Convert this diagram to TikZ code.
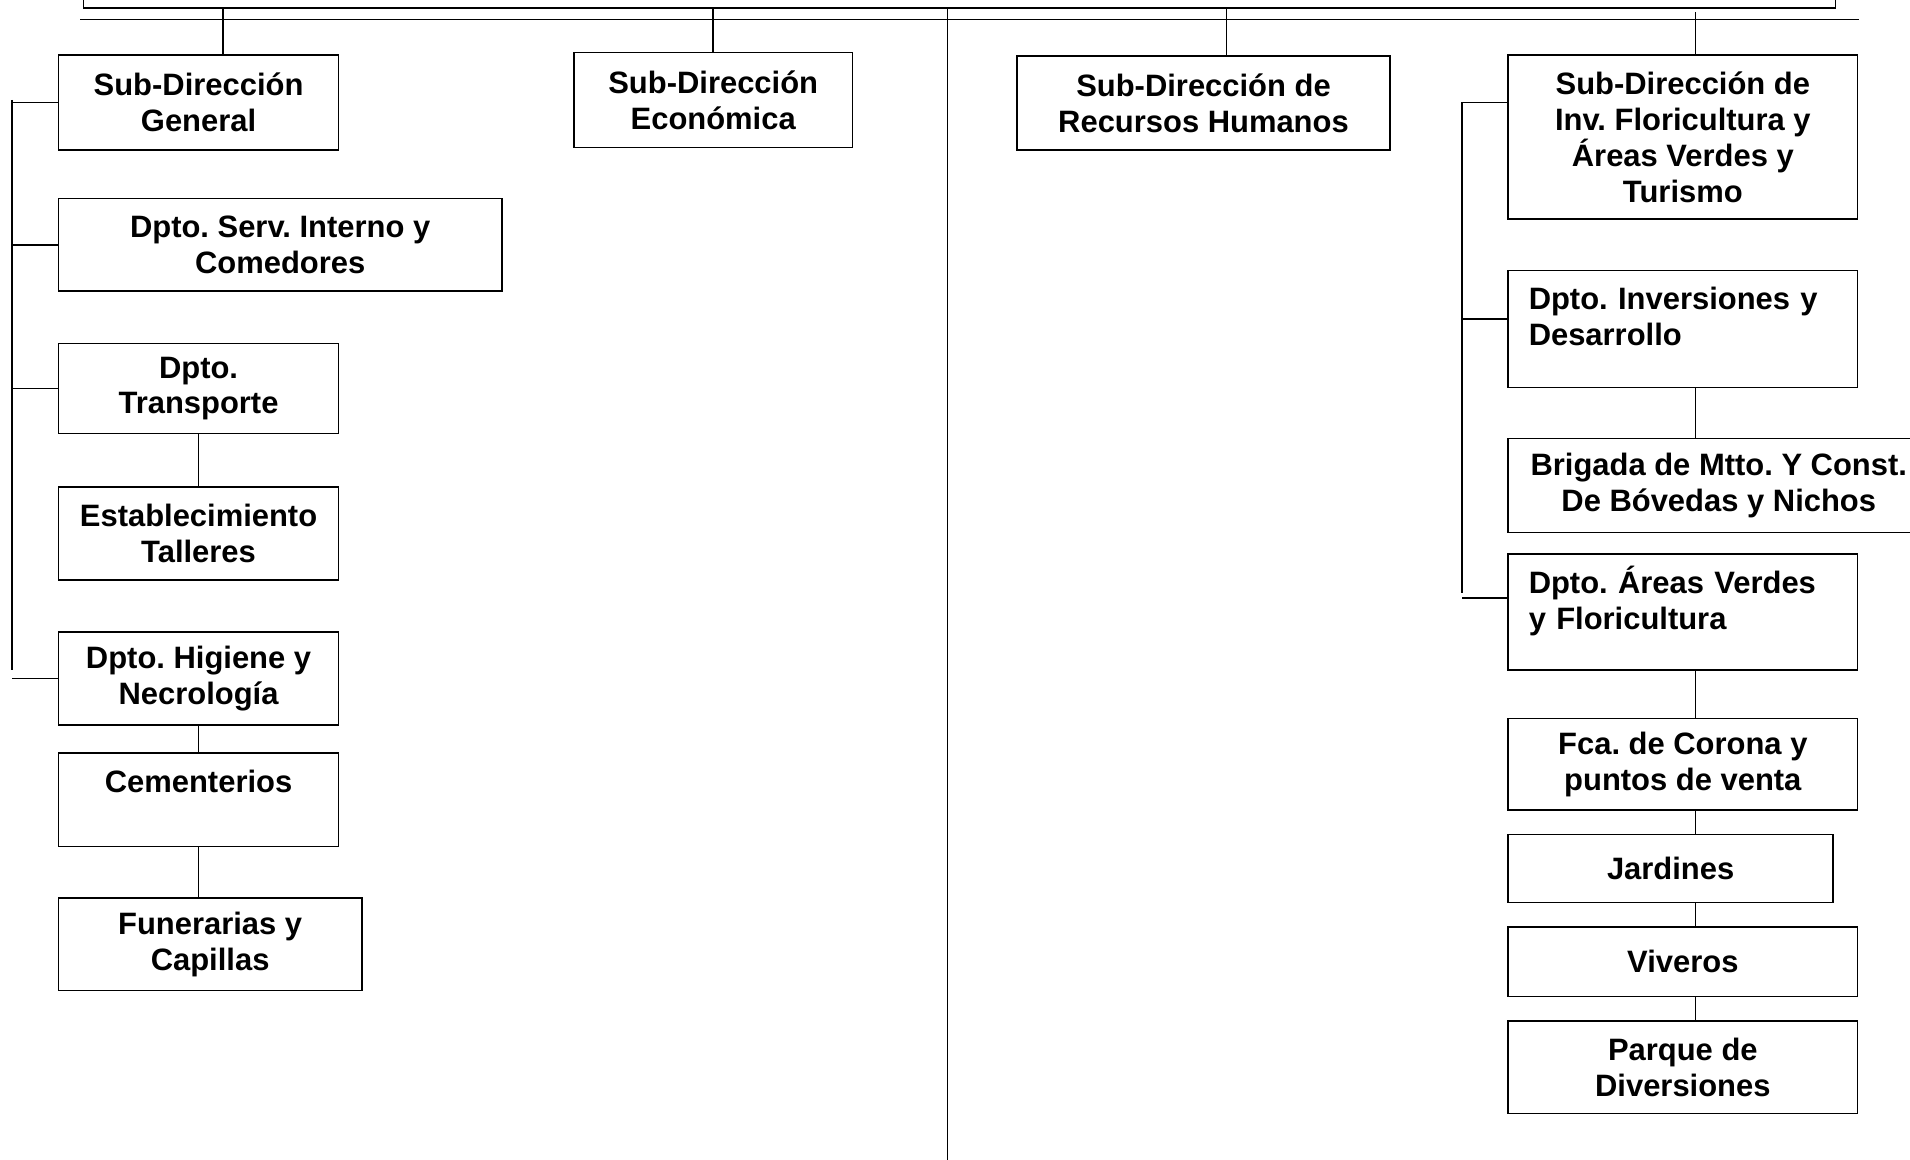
\documentclass[tikz,border=0pt]{standalone}
\usepackage{fontspec}
\setmainfont{Liberation Sans}
\frenchspacing
\begin{document}
\begin{tikzpicture}[x=1pt,y=-1pt,
  box/.style={draw, line width=1.3pt, inner sep=0pt, align=center,
    font=\frenchspacing\bfseries\fontsize{25.4}{29.5}\selectfont},
  lbox/.style={box, align=left, text width=#1, inner xsep=17pt},
  ln/.style={line width=1.3pt}]
\path[use as bounding box] (0,0) rectangle (1568,952);
% top box (cut off)
\node[draw, line width=1.3pt, inner sep=0pt, minimum width=1438pt, minimum height=60pt, anchor=south west] (dir) at (68,7) {};
\coordinate (busL) at (66,16);
\coordinate (busR) at (1526,16);
\draw[ln] (busL) -- (busR);
\coordinate (cbot) at (778,960);
\draw[ln] (dir.south -| cbot) -- (cbot);

% first level
\node[box, minimum width=230pt, minimum height=78pt] (sdg) at (163,84) {Sub-Dirección\\General};
\node[box, minimum width=229pt, minimum height=78pt] (eco) at (585.5,82) {Sub-Dirección\\Económica};
\node[box, minimum width=306pt, minimum height=77pt] (rrhh) at (988,84.5) {Sub-Dirección de\\Recursos Humanos};
\node[box, minimum width=287pt, minimum height=135pt] (sdi) at (1381.5,112.5) {Sub-Dirección de\\Inv. Floricultura y\\Áreas Verdes y\\Turismo};

\draw[ln] (dir.south -| 183,0) -- (sdg.north -| 183,0);
\draw[ln] (dir.south -| eco.north) -- (eco.north);
\draw[ln] (dir.south -| 1007,0) -- (rrhh.north -| 1007,0);
\draw[ln] ([yshift=-3pt]dir.south -| 1392,0) -- (sdi.north -| 1392,0);

% left column
\node[box, minimum width=364pt, minimum height=76pt] (serv) at (230,201) {Dpto. Serv. Interno y\\Comedores};
\node[box, minimum width=230pt, minimum height=74pt] (tra) at (163,319) {Dpto.\\Transporte};
\node[box, minimum width=230pt, minimum height=76pt] (est) at (163,438) {Establecimiento\\Talleres};
\node[box, minimum width=230pt, minimum height=76pt] (hig) at (163,557) {Dpto. Higiene y\\Necrología};
\node[box, minimum width=230pt, minimum height=77pt] (cem) at (163,656.5) {Cementerios\rule[-31pt]{0pt}{0pt}};
\node[box, minimum width=249pt, minimum height=76pt] (fun) at (172.5,775) {Funerarias y\\Capillas};

\coordinate (lt) at (10,82);
\coordinate (lb) at (10,550);
\draw[ln] (lt) -- (lb);
\draw[ln] (sdg.west) -- (sdg.west -| lt);
\draw[ln] (serv.west) -- (serv.west -| lt);
\draw[ln] (tra.west) -- (tra.west -| lt);
\draw[ln] (hig.west) -- (hig.west -| lt);

\draw[ln] (tra.south) -- (est.north);
\draw[ln] (hig.south) -- (cem.north);
\draw[ln] (cem.south) -- (fun.north -| cem.south);

% right column
\node[lbox=253pt, minimum height=96pt] (inv) at (1381.5,270) {Dpto. Inversiones y\\Desarrollo\rule[-20pt]{0pt}{0pt}};
\node[box, minimum width=346pt, minimum height=77pt] (brig) at (1411,398.5) {Brigada de Mtto. Y Const.\\De Bóvedas y Nichos};
\node[lbox=253pt, minimum height=95pt] (av) at (1381.5,502.5) {Dpto. Áreas Verdes\\y Floricultura\rule[-24pt]{0pt}{0pt}};
\node[box, minimum width=287pt, minimum height=75pt] (fca) at (1381.5,627.5) {Fca. de Corona y\\puntos de venta};
\node[box, minimum width=267pt, minimum height=56pt] (jar) at (1371.5,713) {Jardines};
\node[box, minimum width=287pt, minimum height=57pt] (viv) at (1381.5,789.5) {Viveros};
\node[box, minimum width=287pt, minimum height=76pt] (par) at (1381.5,876) {Parque de\\Diversiones};

\coordinate (rt) at (1200,84);
\coordinate (rb) at (1200,487);
\draw[ln] (rt) -- (rb);
\draw[ln] (sdi.west |- rt) -- (rt);
\draw[ln] (inv.west |- 0,262) -- (rt |- 0,262);
\draw[ln] (av.west |- 0,491) -- (rt |- 0,491);

\draw[ln] (inv.south -| 1392,0) -- (brig.north -| 1392,0);
\draw[ln] (av.south -| 1392,0) -- (fca.north -| 1392,0);
\draw[ln] (fca.south -| 1392,0) -- (jar.north -| 1392,0);
\draw[ln] (jar.south -| 1392,0) -- (viv.north -| 1392,0);
\draw[ln] (viv.south -| 1392,0) -- (par.north -| 1392,0);
\end{tikzpicture}
\end{document}
